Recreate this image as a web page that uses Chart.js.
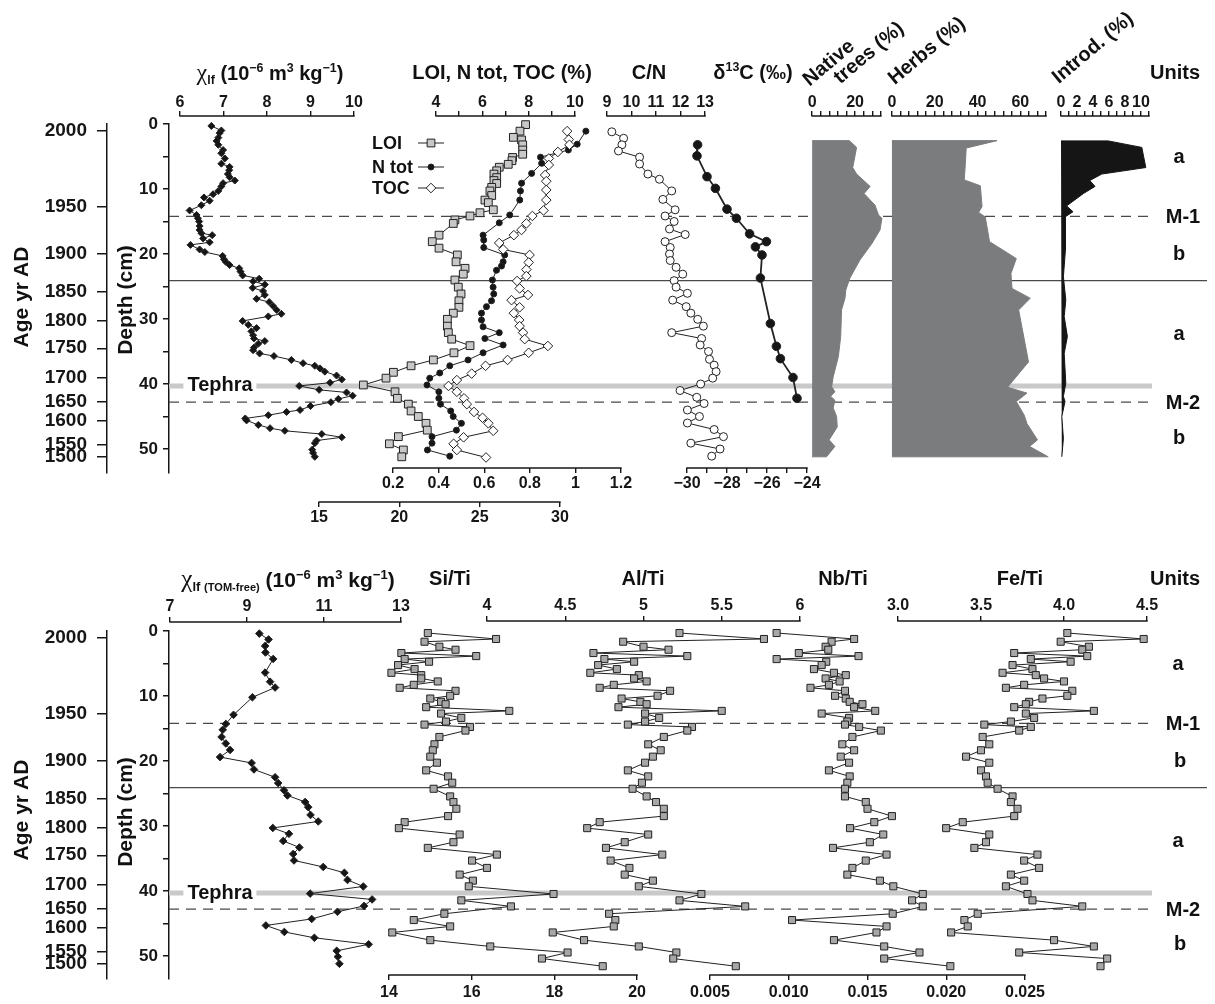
<!DOCTYPE html>
<html><head><meta charset="utf-8"><title>Core profiles</title>
<script src="https://cdn.jsdelivr.net/npm/chart.js@4.4.1/dist/chart.umd.min.js"></script>
<style>
html,body{margin:0;padding:0;background:#fff;}
#wrap{position:relative;width:1215px;height:1004px;overflow:hidden;background:#fff;font-family:"Liberation Sans",Arial,Helvetica,sans-serif;font-weight:bold;color:#111;}
#wrap canvas{position:absolute;}
.t{position:absolute;white-space:nowrap;transform:translate(-50%,-50%);font-size:20px;line-height:1;}
.t sup{font-size:0.62em;vertical-align:0.62em;line-height:0;}
.t sub{font-size:0.62em;vertical-align:-0.32em;line-height:0;}
.t sub small{font-size:0.85em;}
.chi{font-family:"Liberation Serif","DejaVu Serif",serif;font-weight:normal;font-size:1.2em;}
.rot{transform:translate(-50%,-50%) rotate(-40deg);}
.vert{transform:translate(-50%,-50%) rotate(-90deg);font-size:21px;}
.leg{position:absolute;white-space:nowrap;font-size:18px;line-height:1;transform:translateY(-50%);}
.teph{background:#fff;padding:0 4px;}
</style></head><body><div id="wrap"></div>
<script>
// ===================== DATA =====================
// Age scale (calendar years AD) placed at depth (cm)
const ageLabels = ['2000','1950','1900','1850','1800','1750','1700','1650','1600','1550','1500'];
const ageDepths = [1.1, 12.8, 20.0, 25.8, 30.3, 34.5, 39.0, 42.7, 45.6, 49.4, 51.2];
const depthTicks = [0,5,10,15,20,25,30,35,40,45,50];
const depthLabels = [0,10,20,30,40,50];
// Boundary depths: M-1, unit a/b boundary, tephra, M-2
const boundaryDepths = [14.2, 24.1, 40.3, 42.8];

// ---- Top panel ----
const chiDepth = [0.3,1.0,1.4,2.1,2.6,3.2,4.0,4.5,5.3,6.1,6.6,7.1,7.7,8.2,8.7,9.1,9.6,10.3,10.8,11.3,11.8,12.5,13.3,14.0,14.5,15.0,15.7,16.3,16.8,17.1,17.6,18.2,18.6,19.3,19.7,20.3,20.8,21.2,21.7,22.2,22.7,23.3,23.8,24.2,24.7,25.2,25.7,26.3,26.9,27.4,28.0,28.6,29.2,29.6,30.3,30.9,31.4,31.9,32.5,33.0,33.4,33.8,34.4,34.8,35.3,35.7,36.3,36.8,37.2,37.6,38.1,38.7,39.3,39.8,40.3,40.9,41.3,41.8,42.3,42.8,43.4,44.0,44.3,44.8,45.3,45.6,46.3,46.8,47.2,47.7,48.2,48.7,49.1,50.1,50.6,51.2];
const chiValue = [6.72,6.95,6.91,6.88,6.84,6.88,6.99,6.95,7.03,6.95,7.14,7.13,7.10,7.14,7.26,6.99,6.95,6.88,6.76,6.55,6.68,6.49,6.22,6.38,6.41,6.44,6.45,6.45,6.49,6.74,6.53,6.68,6.24,6.45,6.57,6.98,7.01,7.05,7.14,7.36,7.39,7.44,7.82,7.68,7.95,7.67,7.91,7.95,7.76,8.05,8.14,8.22,8.33,8.03,7.44,7.57,7.76,7.64,7.68,7.70,7.95,7.80,7.70,7.68,7.83,8.16,8.56,8.83,9.10,9.22,9.33,9.60,9.72,9.45,8.74,9.20,9.83,9.97,9.64,9.47,9.00,8.76,8.45,8.03,7.50,7.53,7.80,8.07,8.41,9.26,9.72,9.14,9.10,9.04,9.06,9.10];

const loiDepth = [0.1,1.1,2.05,2.45,3.2,4.0,4.65,5.15,5.65,6.2,6.65,7.2,7.7,8.25,8.7,9.15,9.75,10.3,11.0,11.7,12.1,13.2,13.65,14.15,14.75,15.3,17.1,18.1,19.1,20.15,21.2,22.2,23.1,24.0,25.1,26.15,27.2,28.2,29.1,30.05,31.1,32.1,33.1,34.1,35.2,36.3,37.2,38.2,39.1,40.15,41.2,42.2,43.1,44.15,45.0,46.05,47.1,48.1,49.2,50.15,51.2];
const loiValue = [27.86,27.51,27.10,27.61,27.68,27.68,27.68,27.05,27.01,26.78,26.22,26.06,25.89,26.06,25.89,26.06,25.75,25.64,25.75,25.33,25.54,25.85,25.02,24.40,23.46,23.36,22.47,22.05,22.47,23.61,23.53,24.09,23.98,23.46,23.67,23.84,23.71,23.71,23.36,22.99,22.99,23.05,23.26,24.40,23.40,22.12,20.73,19.63,19.17,17.76,19.73,19.88,20.56,20.73,21.18,21.66,21.74,19.94,19.38,20.25,20.15];

const ntotDepth = [1.1,3.1,4.0,5.1,6.05,7.6,9.1,10.3,11.7,14.0,15.2,17.1,17.85,19.0,20.15,21.2,21.85,22.5,24.0,25.1,26.15,27.2,28.1,29.1,30.15,31.2,32.1,33.0,34.0,35.2,36.3,37.2,38.3,39.1,40.15,41.2,42.2,43.1,44.15,45.0,46.05,47.1,48.1,49.1,50.15,51.1];
const ntotValue = [1.046,1.008,0.969,0.847,0.852,0.808,0.764,0.759,0.756,0.712,0.666,0.595,0.598,0.598,0.690,0.683,0.676,0.654,0.636,0.639,0.642,0.632,0.610,0.588,0.588,0.595,0.666,0.603,0.683,0.595,0.529,0.449,0.405,0.361,0.349,0.401,0.401,0.408,0.453,0.464,0.500,0.478,0.371,0.371,0.351,0.449];

const tocDepth = [1.1,2.4,3.2,4.3,5.3,6.3,7.85,8.8,10.15,11.7,13.3,14.15,15.3,16.3,17.1,18.3,19.3,20.15,21.3,22.4,23.4,24.15,25.3,26.3,27.1,28.2,29.1,30.15,31.1,32.1,33.1,34.15,35.2,36.3,37.2,38.4,39.4,40.3,41.2,42.2,43.1,44.3,45.2,46.05,47.2,48.2,49.2,50.15,51.3];
const tocValue = [9.66,9.73,9.76,9.26,8.87,8.87,8.71,8.76,8.76,8.76,8.64,8.16,7.90,7.69,7.36,6.73,6.90,8.04,8.00,7.90,7.90,7.50,7.61,7.97,7.26,7.61,7.36,7.59,7.61,7.76,7.83,8.83,8.00,7.09,6.14,5.54,4.90,4.54,4.90,5.21,5.33,5.64,6.01,6.26,6.47,5.19,4.76,4.90,6.16];

const cnDepth = [1.2,2.2,3.2,4.15,5.1,6.15,7.7,8.5,10.3,11.6,13.2,14.15,15.0,16.15,17.0,18.1,19.0,20.0,21.0,22.05,23.1,24.1,25.1,26.05,27.1,28.1,29.1,30.05,31.1,32.1,33.0,34.0,35.0,36.2,37.1,38.1,39.1,40.0,41.0,42.05,43.0,44.0,45.0,46.0,47.0,48.1,49.1,50.0,51.1];
const cnValue = [9.20,9.68,9.61,9.47,10.33,10.33,10.67,11.14,11.64,11.28,11.78,11.37,11.74,11.55,12.19,11.37,11.58,11.55,11.58,11.82,12.09,11.74,11.82,12.28,11.68,12.23,12.42,12.70,12.93,11.64,12.86,12.80,13.14,13.18,13.37,13.45,13.31,12.82,11.98,12.66,12.96,12.28,12.77,12.28,13.37,13.75,12.42,13.61,13.27];

const d13Depth = [3.2,4.9,8.1,9.9,13.1,14.5,16.9,18.1,18.9,20.15,23.7,30.7,34.2,36.1,39.0,42.2];
const d13Value = [-29.47,-29.50,-29.00,-28.58,-28.00,-27.53,-26.87,-26.03,-26.58,-26.25,-26.33,-25.83,-25.53,-25.33,-24.70,-24.50];

const nativeDepth = [2.56,3.6,6.7,7.7,9.6,10.7,12.5,14.0,14.5,16.3,18.4,20.9,23.7,25.5,26.8,28.6,32.7,35.8,38.9,40.4,41.2,41.9,42.5,43.7,45.0,46.6,48.6,49.6,51.2];
const nativeValue = [17.3,20.7,18.9,20.7,27.0,24.2,29.3,30.9,32.5,31.6,27.8,22.3,17.6,15.7,15.3,13.7,13.3,12.2,9.8,9.1,10.6,8.6,10.6,9.8,11.4,11.7,7.9,10.6,6.7];

const herbDepth = [2.56,3.7,6.05,8.6,9.5,12.7,13.6,14.3,18.1,20.7,23.0,25.3,26.8,28.6,36.6,40.5,41.4,42.7,44.8,46.1,48.6,49.6,51.2];
const herbValue = [49.1,34.7,34.3,33.8,41.3,42.1,40.5,43.6,45.6,58.1,55.6,56.1,64.6,59.2,63.8,54.0,63.1,58.1,61.8,63.1,68.0,64.3,73.0];

const introDepth = [2.6,3.6,6.7,7.7,8.7,9.6,10.7,12.6,13.5,14.3,16.3,19.4,23.5,27.1,29.6,32.7,35.3,39.9,41.9,42.7,45.0,48.4,51.2];
const introValue = [5.9,10.1,10.6,5.1,3.6,4.25,2.8,0.7,1.5,0.5,0.5,0.6,0.3,0.6,0.4,0.8,0.4,0.6,0.3,0.5,0.1,0.3,0.1];

// ---- Bottom panel ----
const chiTFDepth = [0.4,1.3,2.3,3.3,4.3,6.4,7.8,8.7,10.2,12.9,14.3,15.2,16.3,17.3,18.3,19.4,20.3,21.3,22.5,23.4,24.5,25.3,26.3,27.1,28.3,29.3,30.3,31.2,32.3,33.3,34.3,35.3,36.3,37.2,38.3,39.3,40.4,41.3,42.3,43.2,44.3,45.3,46.3,47.2,48.2,49.2,50.1,51.2];
const chiTFValue = [9.32,9.56,9.47,9.48,9.68,9.47,9.60,9.73,9.14,8.65,8.45,8.37,8.34,8.45,8.56,8.30,9.12,9.18,9.73,9.81,9.96,10.05,10.51,10.59,10.65,10.85,9.67,10.09,9.94,10.36,10.20,10.22,10.98,11.53,11.61,12.02,10.64,12.25,12.04,11.35,10.68,9.49,9.97,10.75,12.16,11.33,11.36,11.40];

const xrfDepth = [0.31,1.23,1.65,2.42,2.88,3.39,3.86,4.32,4.73,5.24,5.86,6.43,6.79,7.30,7.76,8.28,8.74,9.20,9.97,10.39,10.90,11.26,11.72,12.29,12.70,13.37,13.93,14.40,14.76,15.32,16.30,17.43,18.35,19.33,20.26,21.44,22.37,23.34,24.27,25.45,26.32,27.35,28.48,29.41,30.33,31.31,32.49,33.37,34.40,35.32,36.45,37.48,38.41,39.28,40.46,41.44,42.37,43.50,44.47,45.45,46.38,47.56,48.53,49.46,50.39,51.57];
const siTi = [14.94,16.59,14.86,15.22,15.61,14.30,16.11,14.38,14.97,14.22,14.62,14.06,14.78,14.78,15.18,14.60,14.26,15.61,15.48,15.00,15.26,15.37,14.90,16.91,15.26,15.75,15.38,14.86,15.96,15.85,15.22,15.10,15.06,15.00,15.16,14.90,15.43,15.53,15.08,15.48,15.56,15.63,15.43,14.38,14.24,15.71,15.56,14.94,16.61,16.01,16.37,15.71,16.03,15.93,17.98,15.75,16.95,15.34,14.60,15.48,14.08,15.00,16.45,18.32,17.70,19.17];
const alTi = [5.23,5.77,4.87,5.00,5.16,4.68,5.28,4.75,4.94,4.71,4.83,4.66,4.97,4.94,5.02,4.81,4.72,5.17,5.09,4.86,4.98,5.02,4.84,5.50,5.01,5.10,5.01,4.90,5.31,5.28,5.13,5.03,5.11,5.06,5.01,4.90,5.03,4.99,4.93,5.02,5.08,5.13,5.13,4.72,4.64,5.03,4.88,4.76,5.12,4.79,4.91,4.88,5.06,4.97,5.37,5.23,5.65,4.78,4.82,4.81,4.42,4.62,4.97,5.21,5.19,5.59];
const nbTi = [0.00923,0.01415,0.01272,0.01234,0.01251,0.01064,0.01443,0.00923,0.01238,0.01209,0.01160,0.01287,0.01362,0.01234,0.01323,0.01255,0.01138,0.01357,0.01294,0.01362,0.01387,0.01468,0.01415,0.01549,0.01209,0.01383,0.01372,0.01357,0.01447,0.01585,0.01404,0.01340,0.01415,0.01330,0.01383,0.01255,0.01387,0.01372,0.01357,0.01357,0.01489,0.01500,0.01655,0.01543,0.01389,0.01600,0.01515,0.01281,0.01621,0.01489,0.01404,0.01372,0.01579,0.01664,0.01851,0.01783,0.01851,0.01660,0.01021,0.01621,0.01557,0.01287,0.01606,0.01830,0.01606,0.02026];
const feTi = [4.02,4.48,3.98,4.15,4.11,3.70,4.14,3.80,4.04,3.69,3.81,3.63,3.83,3.88,4.00,3.76,3.65,4.05,4.02,3.87,3.79,3.77,3.70,4.18,3.77,3.82,3.68,3.52,3.80,3.73,3.51,3.55,3.50,3.41,3.55,3.50,3.53,3.54,3.60,3.69,3.68,3.72,3.70,3.39,3.29,3.55,3.53,3.46,3.84,3.76,3.85,3.68,3.76,3.65,3.78,3.81,4.11,3.48,3.40,3.42,3.32,3.94,4.18,3.73,4.26,4.22];

// ---- Axis tick values and labels ----
const chiTicks = [6,7,8,9,10];
const pctTicks = [4,5,6,7,8,9,10];          const pctLabels = [4,6,8,10];
const ntotTicks = [0.2,0.4,0.6,0.8,1.0,1.2];
const loiTicks = [15,20,25,30];
const cnTicks = [9,10,11,12,13];
const d13Ticks = [-30,-29,-28,-27,-26,-25,-24]; const d13Labels = [-30,-28,-26,-24];
const nativeTicks = [0,4,8,12,16,20,24,28,32];  const nativeLabels = [0,20];
const herbTicks = [0,4,8,12,16,20,24,28,32,36,40,44,48,52,56,60,64,68,72]; const herbLabels = [0,20,40,60];
const introTicks = [0,1,2,3,4,5,6,7,8,9,10,11]; const introLabels = [0,2,4,6,8,10];
const chiTFTicks = [7,9,11,13];
const siTicks = [14,16,18,20];
const alTicks = [4,4.5,5,5.5,6];
const nbTicks = [0.005,0.010,0.015,0.020,0.025];
const feTicks = [3.0,3.5,4.0,4.5];

// ===================== RENDERING =====================
const FONT = '"Liberation Sans", Arial, Helvetica, sans-serif';
Chart.defaults.font.family = FONT;
Chart.defaults.animation = false;
const wrap = document.getElementById('wrap');
const PPC = 6.5;            // px per cm of depth
const Y0T = 124, Y0B = 631; // pixel of depth 0 in each panel
const PADX = 34, PADY = 10, AXH = 34, EXT = 40;
const INK = '#161616';

function addCanvas(left, top, w, h) {
  const c = document.createElement('canvas');
  c.width = Math.round(w); c.height = Math.round(h);
  c.style.left = left + 'px'; c.style.top = top + 'px';
  c.style.width = Math.round(w) + 'px'; c.style.height = Math.round(h) + 'px';
  wrap.appendChild(c);
  return c;
}
const pts = (vals, deps) => deps.map((d, i) => ({x: vals[i], y: d}));
const poly = (vals, deps) => [{x: 0, y: deps[0]}].concat(pts(vals, deps), [{x: 0, y: deps[deps.length - 1]}]);
const has = (arr, v) => arr.some(l => Math.abs(l - v) < 1e-9);

// axis line drawn only over the ticked range of the x scale
const axisLinePlugin = {
  id: 'axisLine',
  afterDraw(chart) {
    const s = chart.scales.x, ctx = chart.ctx;
    const y = s.position === 'top' ? chart.chartArea.top : chart.chartArea.bottom;
    const a = s.getPixelForValue(s.ticks[0].value), b = s.getPixelForValue(s.ticks[s.ticks.length - 1].value);
    ctx.save(); ctx.strokeStyle = INK; ctx.lineWidth = 1.5;
    ctx.beginPath(); ctx.moveTo(a - 0.7, y); ctx.lineTo(b + 0.7, y); ctx.stroke(); ctx.restore();
  }
};

function xAxis(a, min, max) {
  return {
    type: 'linear', position: a.pos, min: min, max: max,
    afterFit(s) { s.height = AXH; },
    afterBuildTicks(s) { s.ticks = a.ticks.map(v => ({value: v})); },
    ticks: {
      autoSkip: false, maxRotation: 0, minRotation: 0, padding: a.pad, color: INK,
      font: {family: FONT, size: 16, weight: 'bold', lineHeight: 1},
      callback(v) { return has(a.labels || a.ticks, v) ? a.fmt(v) : ''; }
    },
    grid: {display: true, drawOnChartArea: false, drawTicks: true, tickLength: 5, color: INK, lineWidth: 1.4},
    border: {display: false}
  };
}

function sub(o) {
  const top = o.axis.pos === 'top';
  const aTop = top ? o.axis.y : o.areaTop;
  const aBot = top ? o.areaBottom : o.axis.y;
  const ppu = (o.pxMax - o.pxMin) / (o.axis.max - o.axis.min);
  const xmin = o.axis.min - EXT / ppu, xmax = o.axis.max + EXT / ppu;
  const w = o.pxMax - o.pxMin + 2 * EXT + 2 * PADX;
  const h = aBot - aTop + 2 * PADY + AXH;
  const c = addCanvas(o.pxMin - EXT - PADX, aTop - PADY - (top ? AXH : 0), w, h);
  return new Chart(c, {
    type: 'scatter',
    data: {datasets: o.datasets},
    options: {
      responsive: false, animation: false, events: [], devicePixelRatio: 1,
      layout: {padding: {left: PADX, right: PADX, top: PADY, bottom: PADY}, autoPadding: false},
      plugins: {legend: {display: false}, tooltip: {enabled: false}},
      scales: {
        x: xAxis(o.axis, xmin, xmax),
        y: {type: 'linear', display: false, reverse: true, min: (aTop - o.Y0) / PPC, max: (aBot - o.Y0) / PPC}
      }
    },
    plugins: [axisLinePlugin]
  });
}

function lineSet(vals, deps, m) {
  return {
    data: pts(vals, deps), showLine: true, clip: false,
    borderColor: '#222', borderWidth: 1,
    pointStyle: m.style, pointRadius: m.r, pointBackgroundColor: m.bg,
    pointBorderColor: '#222', pointBorderWidth: 1
  };
}
function areaSet(vals, deps, color) {
  return {
    data: poly(vals, deps), showLine: true, clip: false, fill: 'shape',
    backgroundColor: color, borderColor: color, borderWidth: 1, pointRadius: 0
  };
}

const fmtPlain = v => String(Math.round(v * 1000) / 1000);
const fmtMinus = v => String(v).replace('-', '\u2212');

const legendItems = [
  {y: 143, style: 'rect', r: 5.5, bg: '#c8c8c8'},
  {y: 167, style: 'circle', r: 3, bg: INK},
  {y: 188, style: 'rectRot', r: 4.8, bg: '#fff'}
];
const legendPlugin = {
  id: 'legendMarks',
  afterDraw(chart) {
    const ctx = chart.ctx;
    legendItems.forEach(it => {
      ctx.save();
      ctx.strokeStyle = '#222'; ctx.lineWidth = 1;
      ctx.beginPath(); ctx.moveTo(418, it.y); ctx.lineTo(444, it.y); ctx.stroke();
      ctx.fillStyle = it.bg;
      Chart.helpers.drawPoint(ctx, {pointStyle: it.style, radius: it.r, borderWidth: 1, rotation: 0}, 431, it.y);
      ctx.restore();
    });
  }
};

function baseChart(canvasTop, canvasH, Y0, areaBottom, plugins) {
  const c = addCanvas(0, canvasTop, 1215, canvasH);
  const yMax = (areaBottom - Y0) / PPC;
  const right = 1207;
  const dashEnd = (1152 - 169) / (right - 169);
  const mk = (d, end, color, width, dash) => ({
    data: [{x: 0, y: d}, {x: end, y: d}], showLine: true, pointRadius: 0,
    borderColor: color, borderWidth: width, borderDash: dash, clip: false
  });
  return new Chart(c, {
    type: 'scatter',
    data: {datasets: [
      mk(boundaryDepths[0], dashEnd, '#4a4a4a', 1.3, [10, 7]),
      mk(boundaryDepths[1], 1, '#4a4a4a', 1.3, []),
      mk(boundaryDepths[2], dashEnd, '#c9c9c9', 5, []),
      mk(boundaryDepths[3], dashEnd, '#4a4a4a', 1.3, [10, 7])
    ]},
    options: {
      responsive: false, animation: false, events: [], devicePixelRatio: 1,
      layout: {padding: {left: 0, right: 1215 - right, top: Y0 - canvasTop, bottom: canvasTop + canvasH - areaBottom}, autoPadding: false},
      plugins: {legend: {display: false}, tooltip: {enabled: false}},
      scales: {
        x: {type: 'linear', display: false, min: 0, max: 1},
        yAge: {
          type: 'linear', position: 'left', weight: 2, reverse: true, min: 0, max: yMax,
          afterFit(s) { s.width = 107; },
          afterBuildTicks(s) { s.ticks = ageDepths.map(v => ({value: v})); },
          ticks: {autoSkip: false, padding: 10, color: INK, font: {family: FONT, size: 19, weight: 'bold', lineHeight: 1},
                  callback: (v, i) => ageLabels[i]},
          grid: {display: true, drawOnChartArea: false, tickLength: 10, color: INK, lineWidth: 1.5},
          border: {display: true, color: INK, width: 1.5}
        },
        y: {
          type: 'linear', position: 'left', weight: 1, reverse: true, min: 0, max: yMax,
          afterFit(s) { s.width = 62; },
          afterBuildTicks(s) { s.ticks = depthTicks.map(v => ({value: v})); },
          ticks: {autoSkip: false, padding: 5, color: INK, font: {family: FONT, size: 17, weight: 'bold', lineHeight: 1},
                  callback: v => has(depthLabels, v) ? String(v) : ''},
          grid: {display: true, drawOnChartArea: false, tickLength: 6, color: INK, lineWidth: 1.5},
          border: {display: true, color: INK, width: 1.5}
        }
      }
    },
    plugins: plugins || []
  });
}

// ---------- TOP PANEL ----------
baseChart(0, 560, Y0T, 473, [legendPlugin]);

sub({pxMin: 180.3, pxMax: 354, Y0: Y0T, areaBottom: 473,
  axis: {pos: 'top', y: 116, min: 6, max: 10, ticks: chiTicks, fmt: fmtPlain, pad: 0},
  datasets: [lineSet(chiValue, chiDepth, {style: 'rectRot', r: 3.5, bg: INK})]});

sub({pxMin: 319.3, pxMax: 560, Y0: Y0T, areaTop: 104,
  axis: {pos: 'bottom', y: 502, min: 15, max: 30, ticks: loiTicks, fmt: fmtPlain, pad: 3},
  datasets: [lineSet(loiValue, loiDepth, {style: 'rect', r: 5.5, bg: '#c8c8c8'})]});

sub({pxMin: 393.3, pxMax: 621, Y0: Y0T, areaTop: 104,
  axis: {pos: 'bottom', y: 468, min: 0.2, max: 1.2, ticks: ntotTicks, fmt: fmtPlain, pad: 3},
  datasets: [lineSet(ntotValue, ntotDepth, {style: 'circle', r: 3, bg: INK})]});

sub({pxMin: 436, pxMax: 575, Y0: Y0T, areaBottom: 473,
  axis: {pos: 'top', y: 116, min: 4, max: 10, ticks: pctTicks, labels: pctLabels, fmt: fmtPlain, pad: 0},
  datasets: [lineSet(tocValue, tocDepth, {style: 'rectRot', r: 4.8, bg: '#fff'})]});

sub({pxMin: 606.7, pxMax: 705, Y0: Y0T, areaBottom: 473,
  axis: {pos: 'top', y: 116, min: 9, max: 13, ticks: cnTicks, fmt: fmtPlain, pad: 0},
  datasets: [lineSet(cnValue, cnDepth, {style: 'circle', r: 4, bg: '#fff'})]});

sub({pxMin: 686.7, pxMax: 806.7, Y0: Y0T, areaTop: 104,
  axis: {pos: 'bottom', y: 468, min: -30, max: -24, ticks: d13Ticks, labels: d13Labels, fmt: fmtMinus, pad: 3},
  datasets: [Object.assign(lineSet(d13Value, d13Depth, {style: 'circle', r: 4.3, bg: INK}), {borderWidth: 1.8})]});

sub({pxMin: 812.3, pxMax: 880.8, Y0: Y0T, areaBottom: 473,
  axis: {pos: 'top', y: 116, min: 0, max: 32, ticks: nativeTicks, labels: nativeLabels, fmt: fmtPlain, pad: 0},
  datasets: [areaSet(nativeValue, nativeDepth, '#7b7c7e')]});

sub({pxMin: 891.7, pxMax: 1046, Y0: Y0T, areaBottom: 473,
  axis: {pos: 'top', y: 116, min: 0, max: 72, ticks: herbTicks, labels: herbLabels, fmt: fmtPlain, pad: 0},
  datasets: [areaSet(herbValue, herbDepth, '#7b7c7e')]});

sub({pxMin: 1061, pxMax: 1149, Y0: Y0T, areaBottom: 473,
  axis: {pos: 'top', y: 116, min: 0, max: 11, ticks: introTicks, labels: introLabels, fmt: fmtPlain, pad: 0},
  datasets: [areaSet(introValue, introDepth, '#151515')]});

// ---------- BOTTOM PANEL ----------
baseChart(560, 444, Y0B, 979);

sub({pxMin: 170, pxMax: 401, Y0: Y0B, areaBottom: 979,
  axis: {pos: 'top', y: 622, min: 7, max: 13, ticks: chiTFTicks, fmt: fmtPlain, pad: 2},
  datasets: [lineSet(chiTFValue, chiTFDepth, {style: 'rectRot', r: 3.8, bg: INK})]});

const xrfMark = {style: 'rect', r: 5, bg: '#a7a7a7'};
sub({pxMin: 389.3, pxMax: 637.7, Y0: Y0B, areaTop: 612,
  axis: {pos: 'bottom', y: 975, min: 14, max: 20, ticks: siTicks, fmt: fmtPlain, pad: 5},
  datasets: [lineSet(siTi, xrfDepth, xrfMark)]});

sub({pxMin: 486.7, pxMax: 799.3, Y0: Y0B, areaBottom: 979,
  axis: {pos: 'top', y: 621, min: 4, max: 6, ticks: alTicks, fmt: fmtPlain, pad: 2},
  datasets: [lineSet(alTi, xrfDepth, xrfMark)]});

sub({pxMin: 710, pxMax: 1025, Y0: Y0B, areaTop: 612,
  axis: {pos: 'bottom', y: 975, min: 0.005, max: 0.025, ticks: nbTicks, fmt: v => v.toFixed(3), pad: 5},
  datasets: [lineSet(nbTi, xrfDepth, xrfMark)]});

sub({pxMin: 897.7, pxMax: 1146.7, Y0: Y0B, areaBottom: 979,
  axis: {pos: 'top', y: 621, min: 3, max: 4.5, ticks: feTicks, fmt: v => v.toFixed(1), pad: 2},
  datasets: [lineSet(feTi, xrfDepth, xrfMark)]});

// ---------- TEXT ----------
function txt(html, x, y, cls, style) {
  const d = document.createElement('div');
  d.className = 't ' + (cls || '');
  d.style.left = x + 'px'; d.style.top = y + 'px';
  if (style) d.style.cssText += style;
  d.innerHTML = html;
  wrap.appendChild(d);
  return d;
}
function leg(text, x, y) {
  const d = document.createElement('div');
  d.className = 'leg'; d.style.left = x + 'px'; d.style.top = y + 'px';
  d.textContent = text; wrap.appendChild(d);
}
const chiUnit = '(10<sup>\u22126</sup> m<sup>3</sup> kg<sup>\u22121</sup>)';
// top titles
txt('<span class="chi">\u03c7</span><sub>lf</sub> ' + chiUnit, 270, 72);
txt('LOI, N tot, TOC (%)', 502, 72);
txt('C/N', 649, 72);
txt('\u03b4<sup>13</sup>C (\u2030)', 753, 72);
txt('Native', 828, 62, 'rot');
txt('trees (%)', 868, 52, 'rot');
txt('Herbs (%)', 926, 50, 'rot');
txt('Introd. (%)', 1092, 47, 'rot');
txt('Units', 1175, 72);
leg('LOI', 372, 143); leg('N tot', 372, 167); leg('TOC', 372, 188);
// bottom titles
txt('<span class="chi">\u03c7</span><sub>lf <small>(TOM-free)</small></sub> ' + chiUnit, 288, 579, '', 'font-size:21px;');
txt('Si/Ti', 450, 578);
txt('Al/Ti', 643, 578);
txt('Nb/Ti', 843, 578);
txt('Fe/Ti', 1020, 578);
txt('Units', 1175, 578);
// axis titles
txt('Age yr AD', 20, 297, 'vert'); txt('Depth (cm)', 124, 300, 'vert');
txt('Age yr AD', 20, 810, 'vert'); txt('Depth (cm)', 124, 812, 'vert');
// tephra labels
txt('Tephra', 220, 384, 'teph'); txt('Tephra', 220, 892, 'teph');
// units column
[['a',1179,156],['M-1',1183,216],['b',1179,253],['a',1179,333],['M-2',1183,402],['b',1179,437]].forEach(u => txt(u[0], u[1], u[2]));
[['a',1178,663],['M-1',1183,723],['b',1180,760],['a',1178,840],['M-2',1183,909],['b',1180,943]].forEach(u => txt(u[0], u[1], u[2]));
</script></body></html>
